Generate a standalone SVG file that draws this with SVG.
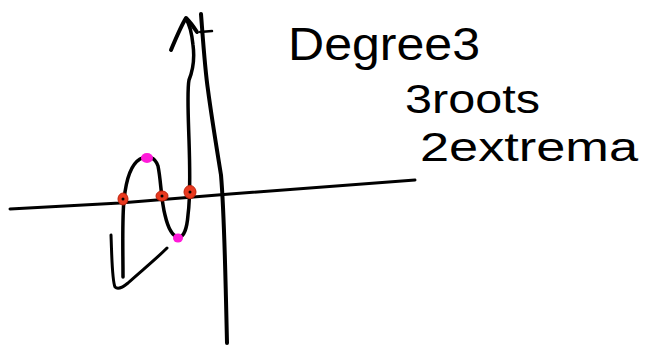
<svg xmlns="http://www.w3.org/2000/svg" width="646" height="350" viewBox="0 0 646 350">
<style>
.ink{fill:none;stroke:#000;stroke-linecap:round;stroke-linejoin:round}
.hand{font-family:"Liberation Sans","DejaVu Sans",sans-serif;fill:#000}
.root{fill:#e8391f;stroke:#c0200a;stroke-width:1}
.ext{fill:#ff1ad9}
</style>
<rect width="646" height="350" fill="#fff"/>
<g id="axes">
<path class="ink" stroke-width="3" d="M10,209 L120,203 L230,194 L415,180"/>
<path class="ink" stroke-width="4" d="M201,14 C203,40 205,70 208,90 C212,120 217,150 221,175 C224,210 225,260 226,300 L227,343"/>
<path class="ink" stroke-width="2.5" d="M200,32 L212,31"/>
</g>
<g id="curve">
<path class="ink" stroke-width="3" d="M111,235 C112,260 112,280 115,287 C118,290 122,288 128,283 C140,272 155,260 167,248"/>
<path class="ink" stroke-width="3.5" d="M123,277 C123,250 122,220 124,200 C126,180 130,165 140,159 C148,155 155,157 158,166 C161,180 161,200 165,215 C168,228 172,236 178,237 C184,238 187,228 188,215 C190,200 190,170 189,140 C188,110 187,90 189,80 C193,70 195,60 193,45 C192,35 190,25 186,19"/>
<path class="ink" stroke-width="4" d="M171,50 C176,38 181,26 186,18 C190,22 193,26 197,32"/>
</g>
<g id="roots">
<ellipse class="root" cx="123" cy="199" rx="5" ry="6"/>
<ellipse class="root" cx="162" cy="196" rx="6" ry="5"/>
<ellipse class="root" cx="190" cy="192" rx="6" ry="6.5"/>
<circle cx="123" cy="199" r="1.5" fill="#000"/>
<circle cx="162" cy="196" r="1.5" fill="#000"/>
<circle cx="190" cy="192" r="1.5" fill="#000"/>
</g>
<g id="extrema">
<ellipse class="ext" cx="147" cy="158" rx="6" ry="5"/>
<ellipse class="ext" cx="178" cy="238" rx="5" ry="4.5"/>
</g>
<g id="labels">
<text class="hand" x="288" y="60" font-size="46" textLength="192" lengthAdjust="spacingAndGlyphs">Degree3</text>
<text class="hand" x="405" y="113" font-size="40" textLength="135" lengthAdjust="spacingAndGlyphs">3roots</text>
<text class="hand" x="420" y="161" font-size="40" textLength="218" lengthAdjust="spacingAndGlyphs">2extrema</text>
</g>
</svg>
